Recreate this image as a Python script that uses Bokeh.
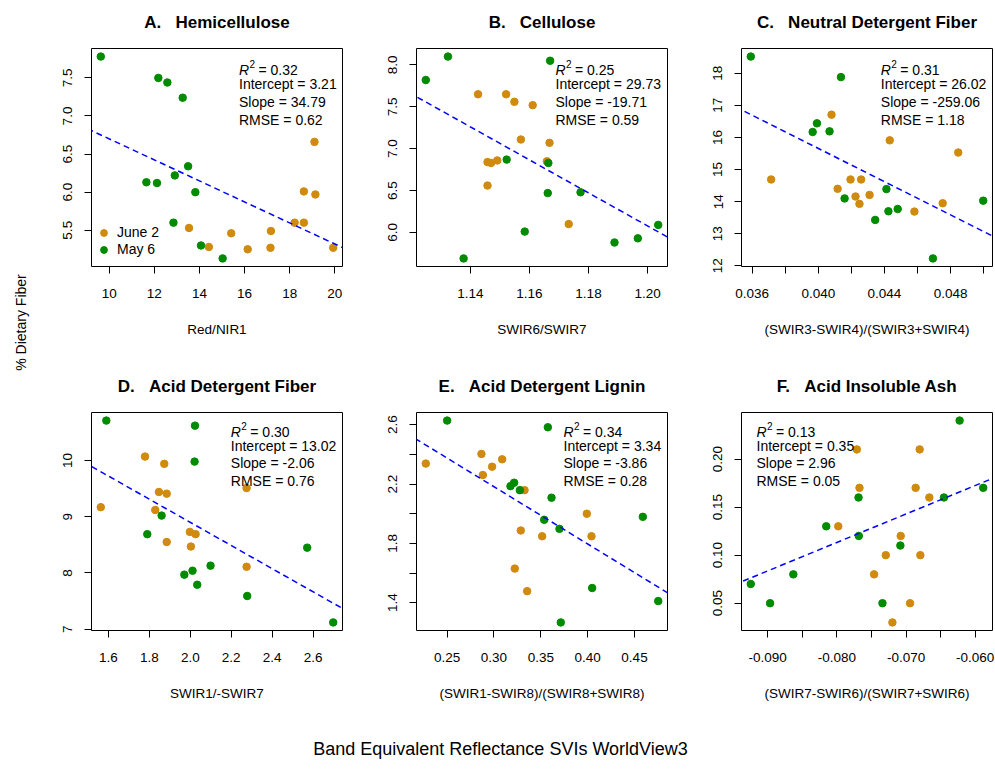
import numpy as np
from math import pi
from bokeh.plotting import figure
from bokeh.models import Range1d, FixedTicker, Slope
from bokeh.layouts import row, column
from bokeh.embed import file_html
from bokeh.resources import INLINE
from bokeh.core.properties import value

FONT = "Liberation Sans"
ORANGE = "#D08A0E"
GREEN = "#008B00"
BLUE = "#0000FF"
SP = "\u00a0\u00a0\u00a0"

# ---------------- data ----------------
titles = ["A." + SP + "Hemicellulose", "B." + SP + "Cellulose", "C." + SP + "Neutral Detergent Fiber",
          "D." + SP + "Acid Detergent Fiber", "E." + SP + "Acid Detergent Lignin", "F." + SP + "Acid Insoluble Ash"]
xlabels = ["Red/NIR1", "SWIR6/SWIR7", "(SWIR3-SWIR4)/(SWIR3+SWIR4)",
           "SWIR1/-SWIR7", "(SWIR1-SWIR8)/(SWIR8+SWIR8)", "(SWIR7-SWIR6)/(SWIR7+SWIR6)"]
series_names = ["June 2", "May 6"]

# A. Hemicellulose
a_x_jun = [19.10, 18.63, 19.14, 18.22, 18.63, 13.54, 15.41, 17.17, 14.42, 16.14, 17.15, 19.93]
a_y_jun = [6.66, 6.01, 5.97, 5.60, 5.60, 5.53, 5.46, 5.49, 5.28, 5.25, 5.27, 5.27]
a_x_may = [9.63, 12.18, 12.58, 13.26, 13.50, 12.91, 11.65, 12.12, 13.82, 12.85, 14.07, 15.03]
a_y_may = [7.78, 7.50, 7.44, 7.24, 6.34, 6.22, 6.13, 6.12, 6.00, 5.60, 5.30, 5.13]
a_xticks = [10, 12, 14, 16, 18, 20]
a_xtick_labels = ["10", "12", "14", "16", "18", "20"]
a_yticks = [5.5, 6.0, 6.5, 7.0, 7.5]
a_ytick_labels = ["5.5", "6.0", "6.5", "7.0", "7.5"]

# B. Cellulose
b_x_jun = [1.1426, 1.1521, 1.1549, 1.1611, 1.1571, 1.1668, 1.1458, 1.1470, 1.1491, 1.1659, 1.1458, 1.1733]
b_y_jun = [7.65, 7.65, 7.56, 7.52, 7.11, 7.07, 6.84, 6.83, 6.86, 6.85, 6.56, 6.10]
b_x_may = [1.1324, 1.1249, 1.1670, 1.1523, 1.1664, 1.1662, 1.1773, 1.1584, 1.2036, 1.1967, 1.1888, 1.1377]
b_y_may = [8.10, 7.82, 8.05, 6.87, 6.83, 6.47, 6.48, 6.01, 6.09, 5.93, 5.88, 5.69]
b_xticks = [1.14, 1.16, 1.18, 1.20]
b_xtick_labels = ["1.14", "1.16", "1.18", "1.20"]
b_yticks = [6.0, 6.5, 7.0, 7.5, 8.0]
b_ytick_labels = ["6.0", "6.5", "7.0", "7.5", "8.0"]

# C. Neutral Detergent Fiber
c_x_jun = [0.03715, 0.04080, 0.04432, 0.04846, 0.04117, 0.04195, 0.04259, 0.04225, 0.04249, 0.04310, 0.04581, 0.04752]
c_y_jun = [14.69, 16.71, 15.91, 15.53, 14.40, 14.69, 14.69, 14.16, 13.93, 14.21, 13.69, 13.95]
c_x_may = [0.03592, 0.04137, 0.03992, 0.03966, 0.04068, 0.04159, 0.04412, 0.04424, 0.04480, 0.04344, 0.04693, 0.04997]
c_y_may = [18.52, 17.88, 16.44, 16.17, 16.19, 14.10, 14.39, 13.70, 13.77, 13.43, 12.23, 14.03]
c_xticks = [0.036, 0.038, 0.040, 0.042, 0.044, 0.046, 0.048, 0.050]
c_xtick_labels = ["0.036", "", "0.040", "", "0.044", "", "0.048", ""]
c_yticks = [12, 13, 14, 15, 16, 17, 18]
c_ytick_labels = ["12", "13", "14", "15", "16", "17", "18"]

# D. Acid Detergent Fiber
d_x_jun = [1.779, 1.873, 1.563, 1.847, 1.885, 1.829, 2.275, 1.885, 1.998, 2.026, 2.003, 2.275]
d_y_jun = [10.07, 9.94, 9.17, 9.44, 9.41, 9.12, 9.51, 8.55, 8.73, 8.69, 8.47, 8.11]
d_x_may = [1.590, 2.023, 2.021, 1.860, 1.790, 1.971, 2.011, 2.034, 2.099, 2.278, 2.571, 2.698]
d_y_may = [10.71, 10.62, 9.98, 9.02, 8.69, 7.97, 8.04, 7.79, 8.13, 7.59, 8.45, 7.12]
d_xticks = [1.6, 1.8, 2.0, 2.2, 2.4, 2.6]
d_xtick_labels = ["1.6", "1.8", "2.0", "2.2", "2.4", "2.6"]
d_yticks = [7, 8, 9, 10]
d_ytick_labels = ["7", "8", "9", "10"]

# E. Acid Detergent Lignin
e_x_jun = [0.2272, 0.2866, 0.2980, 0.3087, 0.2881, 0.3326, 0.3991, 0.3286, 0.3514, 0.4041, 0.3222, 0.3354]
e_y_jun = [2.338, 2.403, 2.317, 2.367, 2.261, 2.159, 2.000, 1.887, 1.848, 1.848, 1.630, 1.478]
e_x_may = [0.2500, 0.3575, 0.3176, 0.3215, 0.3276, 0.3614, 0.3536, 0.3699, 0.4589, 0.4048, 0.4753, 0.3713]
e_y_may = [2.628, 2.583, 2.186, 2.209, 2.159, 2.108, 1.959, 1.898, 1.979, 1.499, 1.411, 1.267]
e_xticks = [0.25, 0.30, 0.35, 0.40, 0.45]
e_xtick_labels = ["0.25", "0.30", "0.35", "0.40", "0.45"]
e_yticks = [1.4, 1.6, 1.8, 2.0, 2.2, 2.4, 2.6]
e_ytick_labels = ["1.4", "", "1.8", "", "2.2", "", "2.6"]

# F. Acid Insoluble Ash
f_x_jun = [-0.07711, -0.06803, -0.07673, -0.06861, -0.06663, -0.07980, -0.07077, -0.07293, -0.06793, -0.07462, -0.06942, -0.07197]
f_y_jun = [0.21, 0.21, 0.17, 0.17, 0.16, 0.13, 0.12, 0.10, 0.10, 0.08, 0.05, 0.03]
f_x_may = [-0.06225, -0.05884, -0.06452, -0.07687, -0.08154, -0.07683, -0.07082, -0.08630, -0.09245, -0.08966, -0.07341]
f_y_may = [0.24, 0.17, 0.16, 0.16, 0.13, 0.12, 0.11, 0.08, 0.07, 0.05, 0.05]
f_xticks = [-0.090, -0.085, -0.080, -0.075, -0.070, -0.065, -0.060]
f_xtick_labels = ["-0.090", "", "-0.080", "", "-0.070", "", "-0.060"]
f_yticks = [0.05, 0.10, 0.15, 0.20]
f_ytick_labels = ["0.05", "0.10", "0.15", "0.20"]

# regression statistics printed in each panel
r2_values = [0.32, 0.25, 0.31, 0.30, 0.34, 0.13]
intercepts = [3.21, 29.73, 26.02, 13.02, 3.34, 0.35]
slopes = [34.79, -19.71, -259.06, -2.06, -3.86, 2.96]
rmse_values = [0.62, 0.59, 1.18, 0.76, 0.28, 0.05]

# fitted (dashed) lines as drawn on the axes
line_slopes = [-0.138, -19.71, -259.06, -2.06, -3.86, 2.96]
line_intercepts = [8.08, 29.73, 26.02, 13.02, 3.34, 0.35]

panels = [
    (a_x_jun, a_y_jun, a_x_may, a_y_may, a_xticks, a_xtick_labels, a_yticks, a_ytick_labels),
    (b_x_jun, b_y_jun, b_x_may, b_y_may, b_xticks, b_xtick_labels, b_yticks, b_ytick_labels),
    (c_x_jun, c_y_jun, c_x_may, c_y_may, c_xticks, c_xtick_labels, c_yticks, c_ytick_labels),
    (d_x_jun, d_y_jun, d_x_may, d_y_may, d_xticks, d_xtick_labels, d_yticks, d_ytick_labels),
    (e_x_jun, e_y_jun, e_x_may, e_y_may, e_xticks, e_xtick_labels, e_yticks, e_ytick_labels),
    (f_x_jun, f_y_jun, f_x_may, f_y_may, f_xticks, f_xtick_labels, f_yticks, f_ytick_labels),
]

# ---------------- layout / style ----------------
FW, FH = 251, 218
BL = 50                      # left border of each panel
COLW = 325                   # panel figure width (columns 1-2)
TOPB = 13                    # border above each frame
BOTB = [90, 80]              # border below each frame (row 1, row 2)
STAT_X = [147.5, 139.0, 139.3, 139.3, 147.0, 15.0]
STAT_Y = [[21.0, 35.0, 53.0, 71.5], [19.3, 33.6, 50.3, 68.6]]
TICK_FS = "13.5px"
STAT_FS = "14px"


def padded(vals):
    lo, hi = min(vals), max(vals)
    d = hi - lo
    return lo - 0.04 * d, hi + 0.04 * d


def make_panel(i):
    xj, yj, xm, ym, xt, xtl, yt, ytl = panels[i]
    r, c = divmod(i, 3)
    x0, x1 = padded(xj + xm)
    y0, y1 = padded(yj + ym)
    p = figure(frame_width=FW, frame_height=FH,
               x_range=Range1d(x0, x1), y_range=Range1d(y0, y1),
               min_border_left=BL, min_border_right=(COLW - BL - FW if c < 2 else 3),
               min_border_top=TOPB, min_border_bottom=BOTB[r],
               output_backend="svg", toolbar_location=None, tools="")
    p.grid.visible = False
    p.outline_line_color = "black"
    p.outline_line_width = 1
    p.outline_line_alpha = 1
    p.background_fill_color = "white"
    p.border_fill_color = "white"

    for ax in (p.xaxis[0], p.yaxis[0]):
        ax.axis_line_color = None
        ax.major_tick_in = 0
        ax.major_tick_out = 7
        ax.major_tick_line_color = "black"
        ax.minor_tick_line_color = None
        ax.major_label_text_font = FONT
        ax.major_label_text_font_size = TICK_FS
        ax.major_label_text_color = "black"
    p.xaxis[0].ticker = FixedTicker(ticks=xt)
    p.xaxis[0].major_label_overrides = dict(zip(xt, xtl))
    p.yaxis[0].ticker = FixedTicker(ticks=yt)
    p.yaxis[0].major_label_overrides = dict(zip(yt, ytl))
    p.yaxis[0].major_label_orientation = "vertical"
    p.xaxis[0].major_label_standoff = 15
    p.yaxis[0].major_label_standoff = 12
    p.xaxis[0].axis_label = xlabels[i]
    p.xaxis[0].axis_label_text_font = FONT
    p.xaxis[0].axis_label_text_font_size = TICK_FS
    p.xaxis[0].axis_label_text_font_style = "normal"
    p.xaxis[0].axis_label_text_color = "black"
    p.xaxis[0].axis_label_standoff = 21

    p.add_layout(Slope(gradient=line_slopes[i], y_intercept=line_intercepts[i],
                       line_color=BLUE, line_width=1.5, line_dash="6 4"))

    if i == 0:
        p.scatter(xj, yj, size=7.5, color=ORANGE, legend_label=series_names[0])
        p.scatter(xm, ym, size=7.5, color=GREEN, legend_label=series_names[1])
        lg = p.legend[0]
        lg.location = (4, 8.5)
        lg.padding = 0
        lg.margin = 0
        lg.spacing = 0
        lg.glyph_width = 17
        lg.glyph_height = 17
        lg.label_height = 17
        lg.label_standoff = 5
        lg.border_line_color = None
        lg.background_fill_alpha = 0
        lg.label_text_font = FONT
        lg.label_text_font_size = STAT_FS
        lg.label_text_color = "black"
    else:
        p.scatter(xj, yj, size=7.5, color=ORANGE)
        p.scatter(xm, ym, size=7.5, color=GREEN)

    def fx(px):
        return x0 + px / FW * (x1 - x0)

    def fy(py):
        return y1 - py / FH * (y1 - y0)

    ox = STAT_X[i]
    dy = STAT_Y[r]
    common = dict(text_font=value(FONT), text_baseline="middle", text_align="left",
                  text_color="black")
    p.text(x=[fx(ox)], y=[fy(dy[0])], text=["R"], text_font_style="italic",
           text_font_size=value(STAT_FS), **common)
    p.text(x=[fx(ox + 10.5)], y=[fy(dy[0] - 6)], text=["2"],
           text_font_size=value("10px"), **common)
    p.text(x=[fx(ox + 19.5)], y=[fy(dy[0])], text=["= %.2f" % r2_values[i]],
           text_font_size=value(STAT_FS), **common)
    p.text(x=[fx(ox)] * 3, y=[fy(dy[1]), fy(dy[2]), fy(dy[3])],
           text=["Intercept = %.2f" % intercepts[i], "Slope = %.2f" % slopes[i],
                 "RMSE = %.2f" % rmse_values[i]],
           text_font_size=value(STAT_FS), **common)
    return p


def label_fig(w, h):
    f = figure(width=w, height=h, x_range=Range1d(0, w), y_range=Range1d(0, h),
               min_border=0, output_backend="svg", toolbar_location=None, tools="",
               x_axis_type=None, y_axis_type=None)
    f.outline_line_color = None
    f.grid.visible = False
    return f


figs = [make_panel(i) for i in range(6)]

RW = 954                      # width of the panel column
TT_H = [35, 43]               # height of the title strips above each row
TT_FROM_TOP = [21.5, 29.5]    # title centre, measured from the strip top
BT_H = 50
YL_W = 41
YL_H = TT_H[0] + TOPB + FH + BOTB[0] + TT_H[1] + TOPB + FH + BOTB[1] + BT_H

title_strips = []
for r in range(2):
    t = label_fig(RW, TT_H[r])
    t.text(x=[c * COLW + BL + FW / 2 for c in range(3)],
           y=[TT_H[r] - TT_FROM_TOP[r]] * 3,
           text=titles[3 * r:3 * r + 3],
           text_align="center", text_baseline="middle", text_font=value(FONT),
           text_font_size=value("17px"), text_font_style="bold", text_color="black")
    title_strips.append(t)

ylab = label_fig(YL_W, YL_H)
ylab.text(x=[20.7], y=[YL_H - 322], text=["% Dietary Fiber"], angle=pi / 2,
          text_align="center", text_baseline="middle", text_font=value(FONT),
          text_font_size=value("14px"), text_color="black")

bottom = label_fig(RW, BT_H)
bottom.text(x=[459], y=[BT_H - 38], text=["Band Equivalent Reflectance SVIs WorldView3"],
            text_align="center", text_baseline="middle", text_font=value(FONT),
            text_font_size=value("18px"), text_color="black")

layout = row(ylab, column(title_strips[0],
                          row(figs[0], figs[1], figs[2]),
                          title_strips[1],
                          row(figs[3], figs[4], figs[5]),
                          bottom))

open("out.html", "w").write(file_html(layout, INLINE))
